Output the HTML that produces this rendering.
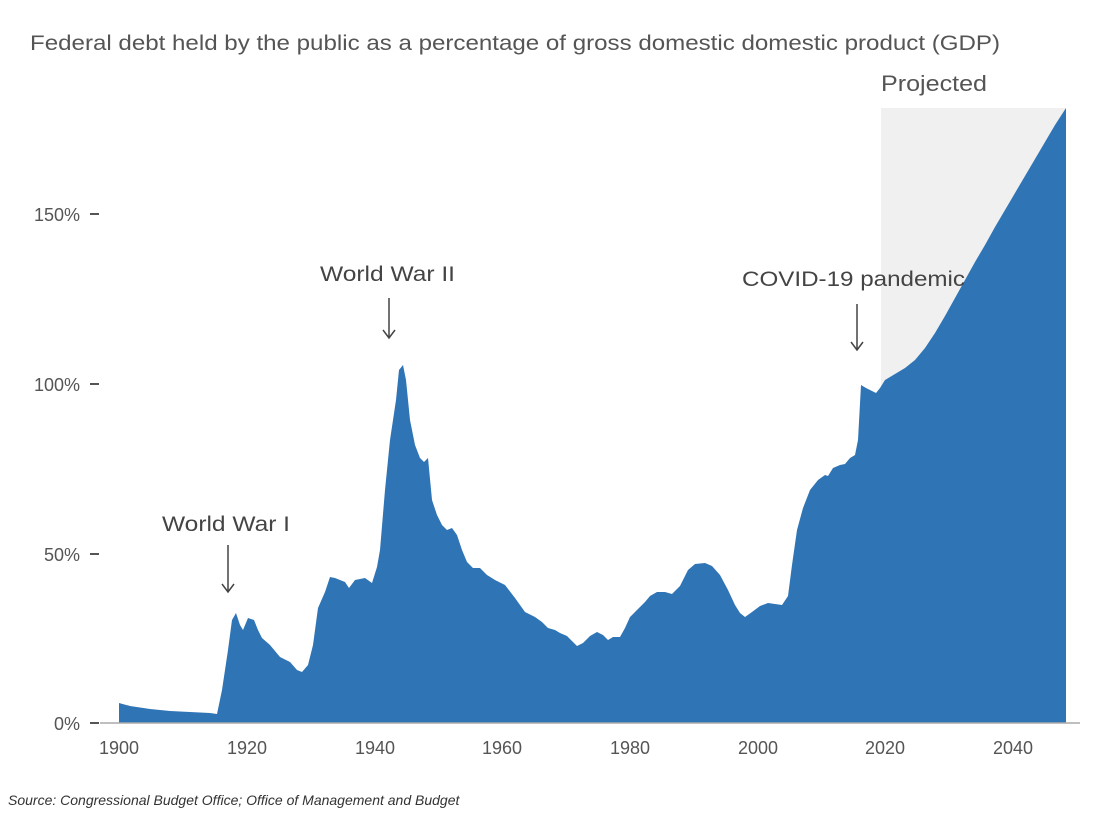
<!DOCTYPE html>
<html><head><meta charset="utf-8"><style>
body{margin:0;background:#fff;}
svg text{font-family:"Liberation Sans",sans-serif;}
</style></head><body>
<svg width="1100" height="828" xmlns="http://www.w3.org/2000/svg">
<rect width="1100" height="828" fill="#fff"/>
<text x="30" y="50" font-size="21" fill="#555" textLength="970" lengthAdjust="spacingAndGlyphs">Federal debt held by the public as a percentage of gross domestic domestic product (GDP)</text>
<rect x="881" y="108" width="185" height="615" fill="#f0f0f0"/>
<text x="881" y="91" font-size="22" fill="#555" textLength="106" lengthAdjust="spacingAndGlyphs">Projected</text>
<polygon fill="#2f74b5" points="119,723 119,703 130,706 150,709 170,711 190,712 210,713 217,714 222,690 228,650 232,620 236,613 240,625 243,630 248,618 254,620 258,630 262,638 270,645 280,657 290,662 297,670 302,672 308,665 313,645 318,608 325,592 330,577 335,578 340,580 345,582 349,588 355,580 365,578 372,583 377,567 380,550 385,490 390,440 396,400 399,370 403,365 406,380 410,420 415,445 420,458 424,462 428,458 432,500 437,515 442,525 447,530 452,528 457,535 462,550 467,562 473,568 480,568 487,575 495,580 505,585 515,598 525,612 535,617 542,622 548,628 555,630 560,633 567,636 572,641 577,646 583,643 590,636 597,632 603,635 608,640 613,637 620,637 625,628 630,617 637,610 645,602 650,596 657,592 665,592 672,594 680,586 688,570 695,564 705,563 712,566 720,575 728,590 735,605 740,613 745,617 752,612 760,606 768,603 775,604 782,605 788,596 792,565 797,530 803,508 810,490 818,480 825,475 828,476 833,468 840,465 845,464 850,458 855,455 858,440 861,385 866,388 870,390 876,393 880,388 885,380 895,374 905,368 915,360 925,348 935,333 945,316 955,298 965,280 975,262 985,245 995,227 1005,210 1015,193 1025,176 1035,159 1045,142 1055,125 1066,108 1066,723" />
<line x1="100" y1="723" x2="1080" y2="723" stroke="#aaa" stroke-width="1.5"/>
<g font-size="18" fill="#555" text-anchor="end">
<text x="80" y="730">0%</text><text x="80" y="561">50%</text><text x="80" y="391">100%</text><text x="80" y="221">150%</text>
</g>
<g stroke="#555" stroke-width="2">
<line x1="90" y1="723" x2="99" y2="723"/><line x1="90" y1="554" x2="99" y2="554"/><line x1="90" y1="384" x2="99" y2="384"/><line x1="90" y1="214" x2="99" y2="214"/>
</g>
<g font-size="18" fill="#555" text-anchor="middle">
<text x="119" y="754">1900</text><text x="247" y="754">1920</text><text x="375" y="754">1940</text><text x="502" y="754">1960</text><text x="630" y="754">1980</text><text x="758" y="754">2000</text><text x="885" y="754">2020</text><text x="1013" y="754">2040</text>
</g>
<g font-size="21" fill="#444">
<text x="162" y="531" textLength="128" lengthAdjust="spacingAndGlyphs">World War I</text>
<text x="320" y="281" textLength="135" lengthAdjust="spacingAndGlyphs">World War II</text>
<text x="742" y="286" textLength="223" lengthAdjust="spacingAndGlyphs">COVID-19 pandemic</text>
</g>
<g stroke="#444" stroke-width="1.5" fill="none">
<path d="M228 545 V592 M222 584 L228 592 L234 584"/>
<path d="M389 298 V338 M383 330 L389 338 L395 330"/>
<path d="M857 304 V350 M851 342 L857 350 L863 342"/>
</g>
<text x="8" y="805" font-size="14" font-style="italic" fill="#333">Source: Congressional Budget Office; Office of Management and Budget</text>
</svg>
</body></html>
